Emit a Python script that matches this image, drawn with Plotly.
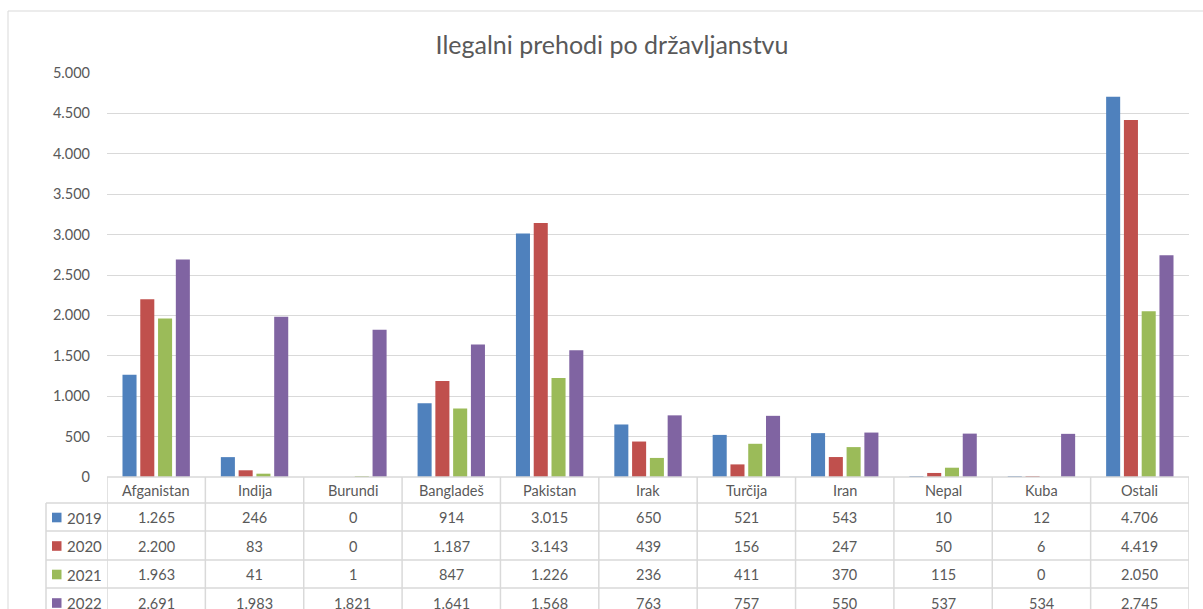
import plotly.graph_objects as go

categories = ["Afganistan", "Indija", "Burundi", "Bangladeš", "Pakistan", "Irak",
              "Turčija", "Iran", "Nepal", "Kuba", "Ostali"]
years = ["2019", "2020", "2021", "2022"]
v2019 = [1265, 246, 0, 914, 3015, 650, 521, 543, 10, 12, 4706]
v2020 = [2200, 83, 0, 1187, 3143, 439, 156, 247, 50, 6, 4419]
v2021 = [1963, 41, 1, 847, 1226, 236, 411, 370, 115, 0, 2050]
v2022 = [2691, 1983, 1821, 1641, 1568, 763, 757, 550, 537, 534, 2745]
series = [v2019, v2020, v2021, v2022]
y_ticks = [0, 500, 1000, 1500, 2000, 2500, 3000, 3500, 4000, 4500, 5000]

colors = ["#4F81BD", "#C0504D", "#9BBB59", "#8064A2"]
W, H = 1203, 609
FONT = "Lato"
TXT = "#595959"
GRID = "#D9D9D9"


def px(x):
    return x / W


def py(y):
    return 1 - y / H


def fmt(v):
    return f"{v:,}".replace(",", ".")


fig = go.Figure()
for yr, vals, c in zip(years, series, colors):
    fig.add_trace(go.Bar(name=yr, x=categories, y=vals, marker_color=c,
                         marker_line_width=0, showlegend=False))

shapes = []
annotations = []

# chart border
shapes.append(dict(type="rect", xref="paper", yref="paper", x0=px(8), x1=px(1215),
                   y0=py(625), y1=py(11), line=dict(color=GRID, width=1), layer="below"))

row_lines = [503, 531, 560, 588]
row_centers = [517.5, 546, 574.5, 603]
header_center = 490.5
n = len(categories)

# header top line (across category columns)
shapes.append(dict(type="line", xref="x", yref="paper", x0=-0.5, x1=n - 0.5,
                   y0=py(477), y1=py(477), line=dict(color=GRID, width=1.5)))
# row lines from left legend column
for ry in row_lines:
    shapes.append(dict(type="line", xref="paper", yref="paper", x0=px(46), x1=px(1189),
                       y0=py(ry), y1=py(ry), line=dict(color=GRID, width=1.5)))
# vertical column boundaries
for i in range(n + 1):
    shapes.append(dict(type="line", xref="x", yref="paper", x0=i - 0.5, x1=i - 0.5,
                       y0=py(477), y1=py(620), line=dict(color=GRID, width=1.5)))
shapes.append(dict(type="line", xref="paper", yref="paper", x0=px(46), x1=px(46),
                   y0=py(503), y1=py(620), line=dict(color=GRID, width=1.5)))

# header labels
for cat in categories:
    annotations.append(dict(x=cat, xref="x", y=py(header_center), yref="paper",
                            text=cat, showarrow=False, xanchor="center", yanchor="middle",
                            font=dict(family=FONT, size=14.5, color=TXT)))

# rows
for r, (yr, vals, c) in enumerate(zip(years, series, colors)):
    cy = row_centers[r]
    shapes.append(dict(type="rect", xref="paper", yref="paper", x0=px(52), x1=px(61.5),
                       y0=py(cy + 4.8), y1=py(cy - 4.8), fillcolor=c, line=dict(width=0)))
    annotations.append(dict(x=px(65), xref="paper", y=py(cy), yref="paper", text=yr,
                            showarrow=False, xanchor="left", yanchor="middle",
                            font=dict(family=FONT, size=15, color=TXT)))
    for cat, v in zip(categories, vals):
        annotations.append(dict(x=cat, xref="x", y=py(cy), yref="paper", text=fmt(v),
                                showarrow=False, xanchor="center", yanchor="middle",
                                font=dict(family=FONT, size=14.5, color=TXT)))

fig.update_layout(
    width=W, height=H,
    margin=dict(l=0, r=0, t=0, b=0, pad=0, autoexpand=False),
    paper_bgcolor="white", plot_bgcolor="white",
    barmode="group", bargap=0.277, bargroupgap=0.21,
    title=dict(text="Ilegalni prehodi po državljanstvu", x=612 / W, xanchor="center",
               y=py(45), yanchor="middle", automargin=False,
               font=dict(family=FONT, size=25, color=TXT)),
    xaxis=dict(domain=[px(107), px(1189)], showticklabels=False, showgrid=False,
               zeroline=False, showline=False, range=[-0.5, n - 0.5], automargin=False),
    yaxis=dict(domain=[py(477), py(73)], range=[0, 5000], tickvals=y_ticks,
               ticktext=[fmt(t) for t in y_ticks], showgrid=True, gridcolor=GRID,
               gridwidth=1, zeroline=False, showline=False, ticks="",
               ticklabelstandoff=16, automargin=False,
               tickfont=dict(family=FONT, size=14.5, color=TXT)),
    shapes=shapes, annotations=annotations,
)

fig.write_html("out.html", config={"displayModeBar": False})

# pin the figure to the top-left corner of the window, no page margin or scrollbars
with open("out.html", encoding="utf-8") as f:
    html = f.read()
style = ("<style>html,body{margin:0;padding:0;overflow:hidden;width:1203px;height:609px;}"
         ".plotly-graph-div{position:fixed;top:0;left:0;}</style>")
html = html.replace("<head>", "<head>" + style, 1)
with open("out.html", "w", encoding="utf-8") as f:
    f.write(html)
